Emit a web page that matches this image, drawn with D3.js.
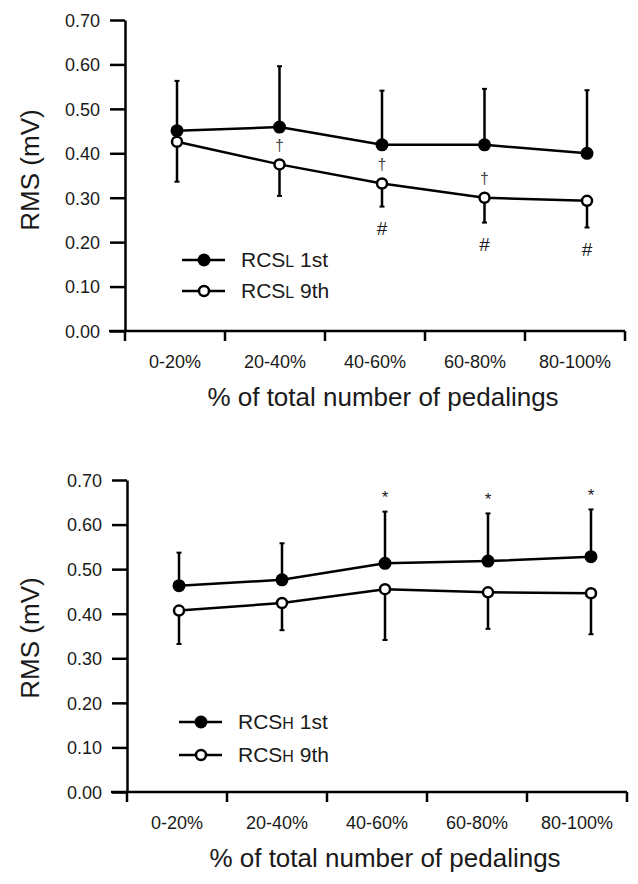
<!DOCTYPE html>
<html>
<head>
<meta charset="utf-8">
<script src="https://cdn.jsdelivr.net/npm/d3@7"></script>
<style>
  body { margin: 0; background: #fff; }
  svg text { font-family: "Liberation Sans", Arial, sans-serif; fill: #1a1a1a; }
</style>
</head>
<body>
<svg id="chart" width="638" height="884"></svg>
<script>
// categories on the x axis
const categories = ["0-20%", "20-40%", "40-60%", "60-80%", "80-100%"];
const yTicks = [0, 0.1, 0.2, 0.3, 0.4, 0.5, 0.6, 0.7];

// panel 1 - RCS low
const rcslFirst = [0.451, 0.459, 0.419, 0.419, 0.400];
const rcslFirstSD = [0.112, 0.137, 0.122, 0.126, 0.142];
const rcslNinth = [0.426, 0.375, 0.332, 0.300, 0.293];
const rcslNinthSD = [0.090, 0.071, 0.052, 0.056, 0.060];
const rcslDagger = ["", "\u2020", "\u2020", "\u2020", ""];
const rcslHash = ["", "", "#", "#", "#"];

// panel 2 - RCS high
const rcshFirst = [0.463, 0.476, 0.513, 0.518, 0.528];
const rcshFirstSD = [0.074, 0.082, 0.116, 0.107, 0.106];
const rcshNinth = [0.407, 0.424, 0.455, 0.448, 0.446];
const rcshNinthSD = [0.075, 0.061, 0.114, 0.082, 0.092];
const rcshStar = ["", "", "*", "*", "*"];

const svg = d3.select('#chart');

function drawPanel(p) {
  const g = svg.append('g');
  const y = d3.scaleLinear().domain([0, 0.7]).range([p.bottom, p.top]);
  const xb = d3.scaleBand().domain(categories).range([p.left, p.left + 500]).padding(0);
  const xp = d3.scalePoint().domain(categories).range(p.pts);

  // y axis
  const ya = g.append('g')
    .attr('transform', `translate(${p.left},0)`)
    .call(d3.axisLeft(y).tickValues(yTicks).tickSize(15).tickSizeOuter(0).tickFormat(d3.format('.2f')));
  ya.select('.domain').attr('stroke', '#000').attr('stroke-width', 2.5);
  ya.selectAll('.tick line').attr('stroke', '#000').attr('stroke-width', 2.5);
  ya.selectAll('.tick text').attr('x', -25).attr('dy', '0.35em').style('font-size', '18px');

  // x axis: labels in the middle of each band, ticks on band edges
  const xa = g.append('g')
    .attr('transform', `translate(0,${p.bottom})`)
    .call(d3.axisBottom(xb).tickSize(0).tickSizeOuter(0));
  xa.select('.domain').remove();
  xa.selectAll('.tick text').attr('y', 31).attr('dy', '0.35em').style('font-size', '18px');
  g.append('line')
    .attr('x1', p.left - 16).attr('x2', p.left + 500)
    .attr('y1', p.bottom).attr('y2', p.bottom)
    .attr('stroke', '#000').attr('stroke-width', 2.5);
  const edges = categories.map(c => xb(c)).concat([xb.range()[1]]);
  g.selectAll('.xtick').data(edges).enter().append('line')
    .attr('x1', d => d).attr('x2', d => d)
    .attr('y1', p.bottom).attr('y2', p.bottom + 10)
    .attr('stroke', '#000').attr('stroke-width', 2.5);

  // axis titles
  g.append('text')
    .attr('x', xb.range()[0] + 258).attr('y', p.bottom + 66).attr('dy', '0.35em')
    .attr('text-anchor', 'middle').style('font-size', '26px')
    .text('% of total number of pedalings');
  g.append('text')
    .attr('transform', `translate(30,${p.titleY}) rotate(-90)`)
    .attr('dy', '0.35em').attr('text-anchor', 'middle').style('font-size', '26px')
    .text('RMS (mV)');

  const line = d3.line().x((d, i) => xp(categories[i])).y(d => y(d));
  [p.first, p.ninth].forEach(vals => {
    g.append('path').datum(vals).attr('d', line)
      .attr('fill', 'none').attr('stroke', '#000').attr('stroke-width', 2.5);
  });

  // error bars: 1st upward, 9th downward
  function errBars(vals, sds, dir) {
    vals.forEach((v, i) => {
      const cx = xp(categories[i]);
      const end = y(v + dir * sds[i]);
      g.append('line').attr('x1', cx).attr('x2', cx).attr('y1', y(v)).attr('y2', end)
        .attr('stroke', '#000').attr('stroke-width', 2.5);
      g.append('line').attr('x1', cx - 2.5).attr('x2', cx + 2.5).attr('y1', end).attr('y2', end)
        .attr('stroke', '#000').attr('stroke-width', 2);
    });
  }
  errBars(p.first, p.firstSD, 1);
  errBars(p.ninth, p.ninthSD, -1);

  // markers
  g.selectAll('.m1').data(p.first).enter().append('circle')
    .attr('cx', (d, i) => xp(categories[i])).attr('cy', d => y(d)).attr('r', 6.5).attr('fill', '#000');
  g.selectAll('.m9').data(p.ninth).enter().append('circle')
    .attr('cx', (d, i) => xp(categories[i])).attr('cy', d => y(d)).attr('r', 5)
    .attr('fill', '#fff').attr('stroke', '#000').attr('stroke-width', 2.5);

  // significance marks
  if (p.dagger) {
    p.dagger.forEach((s, i) => {
      if (!s) return;
      g.append('text').attr('x', xp(categories[i])).attr('y', y(p.ninth[i]) - 19).attr('dy', '0.35em')
        .attr('text-anchor', 'middle').style('font-size', '16px').style('fill', '#444').text(s);
    });
  }
  if (p.hash) {
    p.hash.forEach((s, i) => {
      if (!s) return;
      g.append('text').attr('x', xp(categories[i])).attr('y', y(p.ninth[i] - p.ninthSD[i]) + 22).attr('dy', '0.35em')
        .attr('text-anchor', 'middle').style('font-size', '19px').text(s);
    });
  }
  if (p.star) {
    p.star.forEach((s, i) => {
      if (!s) return;
      g.append('text').attr('x', xp(categories[i])).attr('y', y(p.first[i] + p.firstSD[i]) - 19).attr('dy', '0.6em')
        .attr('text-anchor', 'middle').style('font-size', '17px').text(s);
    });
  }

  // legend
  const lg = g.append('g').attr('transform', `translate(${p.legendX},${p.legendY})`);
  [[true, ' 1st'], [false, ' 9th']].forEach(([filled, suffix], k) => {
    const ly = k * p.legendGap;
    lg.append('line').attr('x1', -22).attr('x2', 21).attr('y1', ly).attr('y2', ly)
      .attr('stroke', '#000').attr('stroke-width', 2.5);
    lg.append('circle').attr('cx', 0).attr('cy', ly).attr('r', filled ? 6.5 : 5)
      .attr('fill', filled ? '#000' : '#fff').attr('stroke', '#000').attr('stroke-width', filled ? 0 : 2.5);
    const t = lg.append('text').attr('x', 37).attr('y', ly).attr('dy', '0.35em').style('font-size', '21px');
    t.append('tspan').text('RCS');
    t.append('tspan').style('font-size', '16px').text(p.sub);
    t.append('tspan').text(suffix);
  });
}

drawPanel({
  top: 20, bottom: 331, left: 125, pts: [177, 587], titleY: 170,
  first: rcslFirst, firstSD: rcslFirstSD, ninth: rcslNinth, ninthSD: rcslNinthSD,
  dagger: rcslDagger, hash: rcslHash, sub: 'L', legendX: 204, legendY: 260, legendGap: 31
});
drawPanel({
  top: 480, bottom: 792, left: 127, pts: [179, 591], titleY: 638,
  first: rcshFirst, firstSD: rcshFirstSD, ninth: rcshNinth, ninthSD: rcshNinthSD,
  star: rcshStar, sub: 'H', legendX: 201, legendY: 722, legendGap: 33
});
</script>
</body>
</html>
